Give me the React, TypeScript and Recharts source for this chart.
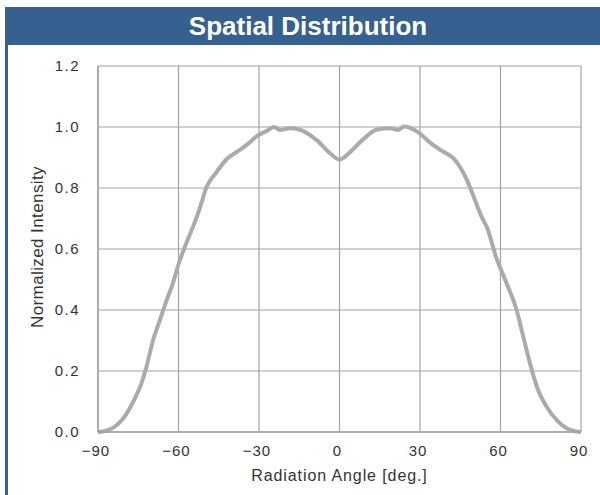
import React from 'react';
import { LineChart, Line, XAxis, YAxis, CartesianGrid } from 'recharts';

const angles = [
  -90, -87, -84, -81, -79, -76, -74, -72, -69.5, -67, -64.5, -62, -60, -57.5, -54.5, -52, -49.5,
  -46, -42, -38, -34.5, -30.5, -27, -24.5, -22, -18.5, -15, -8.5, -3.5, 0, 4, 8.5, 14, 19, 22, 24,
  29, 34, 38.5, 42.5, 47.5, 50.5, 53, 55, 58.5, 62.3, 66, 68.5, 71, 73.5, 77, 81.5, 84.7, 87, 90,
];
const intensity = [
  0.0, 0.004, 0.016, 0.04, 0.065, 0.115, 0.155, 0.212, 0.3, 0.365, 0.43, 0.49, 0.55, 0.61, 0.675, 0.735, 0.804,
  0.85, 0.895, 0.92, 0.942, 0.972, 0.988, 1.0, 0.99, 0.996, 0.992, 0.957, 0.914, 0.893, 0.918, 0.957, 0.992, 0.996, 0.99, 1.002,
  0.985, 0.947, 0.92, 0.897, 0.826, 0.76, 0.705, 0.67, 0.57, 0.487, 0.4, 0.312, 0.225, 0.15, 0.085, 0.034, 0.012, 0.004, 0.0,
];
const xTicks = [-90, -60, -30, 0, 30, 60, 90];
const yTicks = [0, 0.2, 0.4, 0.6, 0.8, 1.0, 1.2];

const data = angles.map((a, i) => ({ angle: a, value: intensity[i] }));

const FONT = '"Liberation Sans", Arial, sans-serif';

export default function App() {
  return (
    <div style={{ position: 'absolute', left: 0, top: 0, width: 600, height: 495, background: '#fff', fontFamily: FONT }}>
      <div style={{ position: 'absolute', left: 5, top: 7, width: 595, height: 38, background: '#35608f' }} />
      <div style={{ position: 'absolute', left: 5, top: 45, width: 2.5, height: 450, background: '#35608f' }} />
      <div style={{ position: 'absolute', left: 5, top: 7, width: 595, height: 38, color: '#fff', fontWeight: 'bold', fontSize: 26, lineHeight: '38px', textAlign: 'center', paddingLeft: 11, boxSizing: 'border-box' }}>
        Spatial Distribution
      </div>
      <div style={{ position: 'absolute', left: 38, top: 247, width: 0, height: 0 }}>
        <div style={{ position: 'absolute', transform: 'translate(-50%, -50%) rotate(-90deg)', whiteSpace: 'nowrap', fontSize: 17, color: '#333', letterSpacing: 0.4 }}>
          Normalized Intensity
        </div>
      </div>
      <div style={{ position: 'absolute', left: 0, top: 0 }}>
        <LineChart width={600} height={495} data={data} margin={{ top: 66, right: 19, bottom: 33, left: 38 }}>
          <CartesianGrid stroke="#a3a3a3" strokeWidth={1.2} horizontalValues={yTicks} verticalValues={xTicks} />
          <XAxis
            dataKey="angle"
            type="number"
            domain={[-90, 90]}
            ticks={xTicks}
            height={30}
            tickSize={0}
            tickMargin={13}
            axisLine={{ stroke: '#a3a3a3', strokeWidth: 1.5 }}
            tick={{ fill: '#333', fontSize: 15, fontFamily: FONT, letterSpacing: 1, dx: -2 } as any}
            tickFormatter={(v: number) => (v < 0 ? '\u2212' + Math.abs(v) : String(v))}
            label={{ value: 'Radiation Angle [deg.]', position: 'bottom', offset: 8, fill: '#333', fontSize: 16, fontFamily: FONT, letterSpacing: 0.9 } as any}
          />
          <YAxis
            type="number"
            domain={[0, 1.2]}
            ticks={yTicks}
            width={60}
            tickSize={0}
            tickMargin={18}
            axisLine={{ stroke: '#a3a3a3', strokeWidth: 1.5 }}
            tick={{ fill: '#333', fontSize: 15, fontFamily: FONT, letterSpacing: 1.5 } as any}
            tickFormatter={(v: number) => v.toFixed(1)}
          />
          <Line
            type="monotone"
            dataKey="value"
            stroke="#ababab"
            strokeWidth={4}
            dot={false}
            activeDot={false}
            isAnimationActive={false}
          />
        </LineChart>
      </div>
    </div>
  );
}
